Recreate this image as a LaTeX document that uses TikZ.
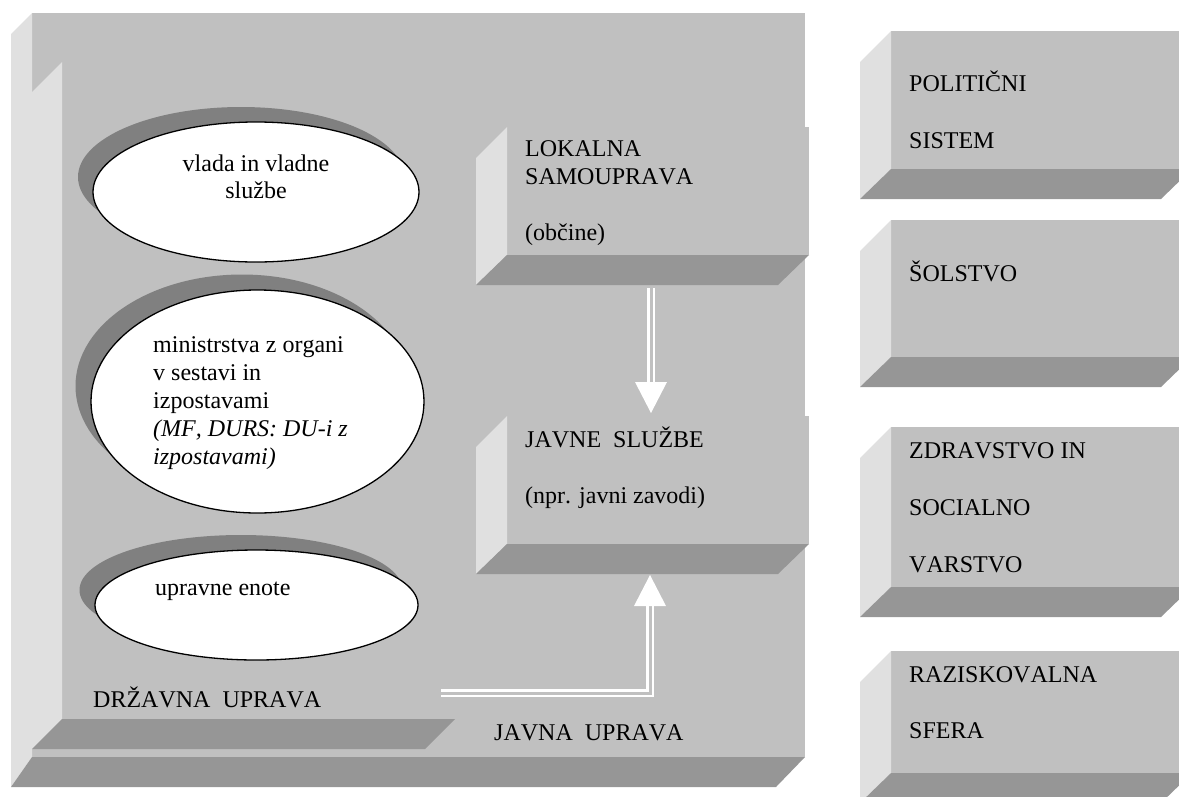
\documentclass[tikz,border=0pt]{standalone}
\usepackage{fontspec}
\setmainfont{Liberation Serif}[Kerning=Off]
\usetikzlibrary{shapes.geometric,calc}
\definecolor{frontc}{HTML}{C0C0C0}
\definecolor{sidec}{HTML}{E0E0E0}
\definecolor{bottomc}{HTML}{969696}
\definecolor{shadc}{HTML}{808080}
\newcommand\bevbox[5]{%
  \node[face, minimum width={#4-#2}, minimum height={#5-#3}] (#1) at (#2,#3) {};
  \fill[sidec] (#1.north west) -- ++(-31,31) -- ($(#1.south west)+(-31,30)$) -- (#1.south west) -- cycle;
  \fill[bottomc] (#1.south west) -- (#1.south east) -- ($(#1.south east)+(-31,30)$) -- ($(#1.south west)+(-31,30)$) -- cycle;
}
\begin{document}
\begin{tikzpicture}[x=1pt,y=-1pt,
  face/.style={fill=frontc, draw=none, inner sep=0pt, outer sep=0pt, anchor=north west},
  lbl/.style={anchor=base west, inner sep=0pt, font=\fontsize{24}{28}\selectfont},
  clbl/.style={anchor=base, inner sep=0pt, font=\fontsize{24}{28}\selectfont},
  oval/.style={ellipse, fill=white, draw=black, line width=1.3pt, inner sep=0pt},
  shadowoval/.style={ellipse, fill=shadc, draw=none, inner sep=0pt},
  dblout/.style={draw=white, line width=7.5pt},
  dblin/.style={draw=frontc, line width=3pt},
  headc/.style={fill=white}
]
\useasboundingbox (0,0) rectangle (1179,796);
\clip (0,0) rectangle (1179,796);

% ---- outer box: JAVNA UPRAVA ----
\node[face, minimum width=773pt, minimum height=744pt] (outer) at (32,13) {};
\fill[sidec] (outer.north west) -- (11,34) -- (11,787) -- (outer.south west) -- cycle;
\fill[bottomc] (outer.south west) -- (outer.south east) -- (776,787) -- (11,787) -- cycle;

% ---- inner box: DRZAVNA UPRAVA ----
\node[face, minimum width=393pt, minimum height=657pt] (inner) at (62,62) {};
\fill[sidec] (inner.north west) -- (32,92) -- (32,749) -- (inner.south west) -- cycle;
\fill[bottomc] (inner.south west) -- (inner.south east) -- (425,749) -- (32,749) -- cycle;

% ---- ellipses ----
\node[shadowoval, minimum width=326pt, minimum height=140pt] (s1) at (241,177) {};
\node[oval, minimum width=326pt, minimum height=140pt] (e1) at (256,192) {};
\node[shadowoval, minimum width=333pt, minimum height=223pt] (s2) at (242,386) {};
\node[oval, minimum width=333pt, minimum height=223pt] (e2) at (257.5,401.5) {};
\node[shadowoval, minimum width=323pt, minimum height=110pt] (s3) at (241,590) {};
\node[oval, minimum width=323pt, minimum height=110pt] (e3) at (256.5,605) {};

% ---- middle boxes ----
\bevbox{lok}{507}{127}{809}{255}
\bevbox{js}{507}{416}{809}{544}

% ---- right boxes ----
\bevbox{pol}{891}{31}{1192}{169}
\bevbox{sol}{891}{220}{1192}{357}
\bevbox{zdr}{891}{427}{1192}{587}
\bevbox{raz}{891}{651}{1192}{773}

% ---- arrows ----
\coordinate (a1s) at (651,288);
\coordinate (a1b) at (651,383);
\coordinate (a1t) at (651,413);
\draw[dblout] (a1s) -- (a1b);
\draw[dblin] (a1s) -- (a1b);
\fill[headc] ($(a1t)+(-16,-31)$) -- ($(a1t)+(16,-31)$) -- (a1t) -- cycle;

\coordinate (a2s) at (441,693);
\coordinate (a2b) at (650,605);
\coordinate (a2t) at (650,575);
\draw[dblout] (a2s) -| (a2b);
\draw[dblin] (a2s) -| (a2b);
\fill[headc] ($(a2t)+(-16,31)$) -- ($(a2t)+(16,31)$) -- (a2t) -- cycle;

% ---- texts ----
\node[clbl] (t1a) at (256,171) {vlada in vladne};
\node[clbl] (t1b) at (256,198) {službe};

\node[lbl] (t2a) at (153,352) {ministrstva z organi};
\node[lbl] (t2b) at (153,380) {v sestavi in};
\node[lbl] (t2c) at (153,408) {izpostavami};
\node[lbl, font=\fontsize{24}{28}\selectfont\itshape] (t2d) at (153,436) {(MF, DURS: DU-i z};
\node[lbl, font=\fontsize{24}{28}\selectfont\itshape] (t2e) at (153,464) {izpostavami)};

\node[lbl] (t3) at (155,595) {upravne enote};

\node[lbl] (tdu) at (93,707) {DRŽAVNA\ \ UPRAVA};
\node[lbl] (tju) at (494,740) {JAVNA\ \ UPRAVA};

\node[lbl] (tl1) at (525,156) {LOKALNA};
\node[lbl] (tl2) at (525,184) {SAMOUPRAVA};
\node[lbl] (tl3) at (525,240) {(občine)};

\node[lbl] (tj1) at (525,447) {JAVNE\ \ SLUŽBE};
\node[lbl] (tj2) at (525,503) {(npr. javni zavodi)};

\node[lbl] (tp1) at (909,91) {POLITIČNI};
\node[lbl] (tp2) at (909,148) {SISTEM};
\node[lbl] (ts1) at (909,281) {ŠOLSTVO};
\node[lbl] (tz1) at (909,458) {ZDRAVSTVO IN};
\node[lbl] (tz2) at (909,515) {SOCIALNO};
\node[lbl] (tz3) at (909,572) {VARSTVO};
\node[lbl] (tr1) at (909,682) {RAZISKOVALNA};
\node[lbl] (tr2) at (909,738) {SFERA};
\end{tikzpicture}
\end{document}
